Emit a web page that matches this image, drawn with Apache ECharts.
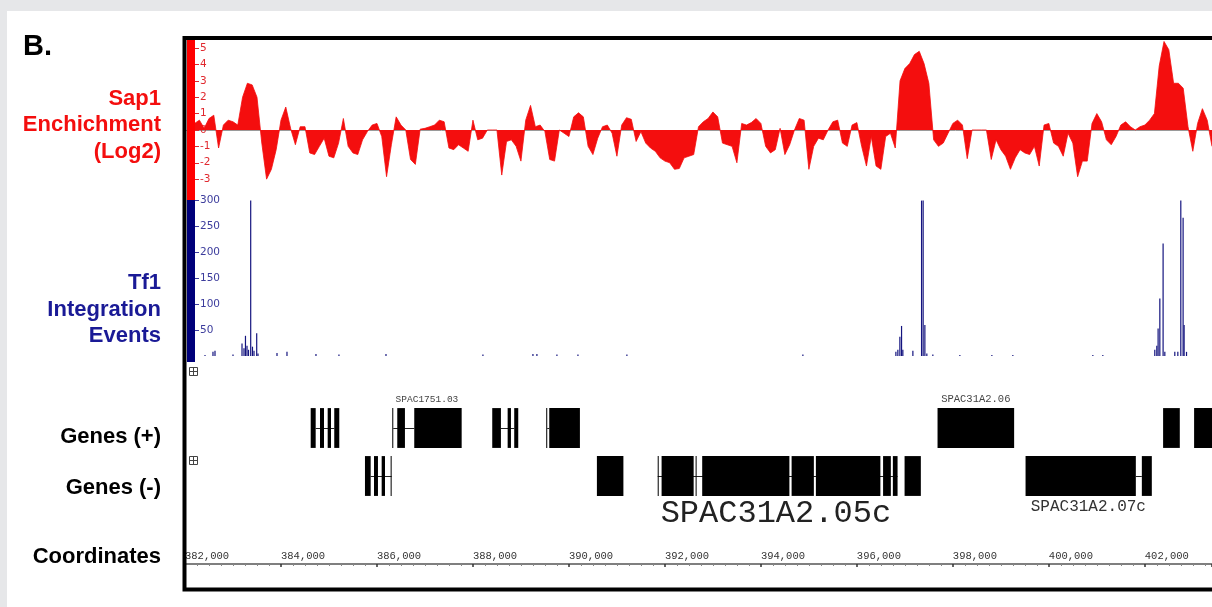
<!DOCTYPE html>
<html><head><meta charset="utf-8">
<script src="https://cdn.jsdelivr.net/npm/echarts@6/dist/echarts.min.js"></script>
<style>html,body{margin:0;padding:0;background:#fff}#c{width:1212px;height:607px}</style>
</head><body><div id="c"></div><script>
// ---- data ----
const coordMin = 382000;
const coordMax = 403400;
const coordTickStep = 2000;

// Sap1 enrichment (log2), sampled along the region
const sapStartBp = 382200;
const sapStepBp = 100;
const sapValues = [
 0.4,0.6,0.1,0.7,0.9,-1.1,0.3,0.6,0.5,0.3,
 2.0,2.85,2.75,2.0,-0.8,-3.0,-2.4,-1.2,0.6,1.4,
 0.1,-0.9,0.2,0.2,-1.4,-1.5,-1.0,-0.5,-1.6,-1.7,
 -0.8,0.7,-1.0,-1.4,-1.5,-0.6,-0.1,0.3,0.4,-0.4,
 -2.85,-0.9,0.8,0.3,0,-1.8,-2.1,0.05,0.1,0.2,
 0.3,0.6,0.5,-1.1,-1.2,-0.9,-1.1,-1.3,0.6,-0.6,
 -0.5,0,0,0,-2.75,-0.7,-0.6,-1.0,-1.9,0.6,
 1.5,0.2,0.3,-0.1,-1.8,-1.9,0,-0.2,-0.4,0.8,
 1.05,0.8,-1.0,-1.5,-0.5,0.2,0.3,-0.2,-1.6,0.3,
 0.75,0.65,-0.7,-0.1,-0.8,-1.1,-1.3,-1.7,-1.9,-2.0,
 -2.4,-2.35,-1.7,-1.6,-1.5,0.2,0.5,0.7,1.1,0.8,
 -0.8,-0.9,-1.0,-2.0,0.4,0.3,0.45,0.7,0.4,-1.0,
 -1.4,-1.2,0.1,-1.5,-0.9,0,0.7,0.6,-2.4,-1.0,
 -0.5,-0.6,0,0.5,0.6,-0.8,-1.0,0.3,0.45,-1.0,
 -2.2,-0.4,-2.2,-2.4,-0.4,-0.2,-1.1,3.0,3.75,4.05,
 4.6,4.8,4.05,2.85,-0.6,-1.0,-0.8,-0.2,0.4,0.6,
 0.3,-1.75,0,0,0,0,-1.8,-0.6,-1.2,-1.6,
 -2.4,-1.7,-1.2,-1.4,-1.5,-1.0,-2.2,0.3,0.4,-0.8,
 -1.0,-1.6,-0.2,-0.8,-2.85,-1.9,-1.9,0.4,1.0,0.5,
 -0.6,-0.9,-0.4,0.3,0.5,0.2,0,0.2,0.3,0.6,
 1.0,3.9,5.4,4.9,2.85,2.85,2.55,0.2,-1.3,0.4,
 1.3,0.6,-1.0
];
const sapTicks = [-3,-2,-1,0,1,2,3,4,5];

// Tf1 integration events
const tf1Pos = [382417,382583,382625,383000,383188,383229,383260,383292,383323,383369,383406,383438,383494,383521,
 383917,384125,384729,385208,386188,388208,389250,389333,389750,390188,391208,394875,
 396813,396854,396896,396931,396958,397167,397348,397381,397417,397458,397583,398146,398813,399250,400917,401125,
 402208,402250,402277,402313,402381,402417,402625,402688,402750,402798,402819,402869];
const tf1Counts = [2,8,10,3,24,15,39,20,12,300,18,10,44,5,
 6,8,4,3,4,3,4,4,3,3,3,3,
 8,12,37,58,12,10,300,300,60,5,3,2,2,2,2,2,
 12,20,53,111,217,8,8,8,300,267,60,8];
const tf1Ticks = [50,100,150,200,250,300];

// Genes
const strands = ['+','-'];
const plusExons = [
 [384619,384723],[384813,384896],[384973,385042],[385110,385215],
 [386319,386340],[386423,386583],[386777,387765],
 [388402,388583],[388723,388792],[388860,388944],
 [389527,389548],[389590,390229],
 [397681,399277],
 [402381,402729],
 [403027,403600]
];
const plusIntrons = [[384723,385110],[386340,386777],[388583,388860],[389548,389590]];
const minusExons = [
 [385750,385869],[385938,386021],[386098,386167],[386285,386306],
 [390583,391135],
 [391850,391871],[391931,392599],[392640,392660],[392777,394594],[394640,395104],[395146,396490],[396546,396708],[396750,396848],
 [396994,397333],
 [399515,401813],[401938,402146]
];
const minusIntrons = [[385869,386306],[391850,396848],[401813,401938]];
const geneLabelNames = ['SPAC1751.03','SPAC31A2.06','SPAC31A2.05c','SPAC31A2.07c'];
const geneLabelPos = [387042,398478,394312,400823];
const geneLabelStrand = ['+','+','-','-'];

// ---- styles ----
const labelDy = [-29,-29,38,31];
const labelFontSize = [9.5,10.5,32,16];
const labelColor = ['#444','#444','#222','#333'];
const RED = '#f40e0e', NAVY = '#14147f';
const gridLeft = 185;

// ---- build ----
const sapData = sapValues.map((v,i)=>[sapStartBp + i*sapStepBp, v]);
const tf1Data = tf1Pos.map((p,i)=>[p, tf1Counts[i]]);
const exonData = plusExons.map(e=>[e[0],e[1],0]).concat(minusExons.map(e=>[e[0],e[1],1]));
const intronData = plusIntrons.map(e=>[e[0],e[1],0]).concat(minusIntrons.map(e=>[e[0],e[1],1]));
const labelData = geneLabelNames.map((n,i)=>[geneLabelPos[i], strands.indexOf(geneLabelStrand[i]), i]);

function renderExon(params, api){
  const p0 = api.coord([api.value(0), api.value(2)]);
  const p1 = api.coord([api.value(1), api.value(2)]);
  const h = api.size([0,1])[1]*0.83;
  const w = Math.max(p1[0]-p0[0], 1);
  return {type:'rect', shape:{x:p0[0], y:p0[1]-h/2, width:w, height:h}, style:{fill:'#000'}};
}
function renderIntron(params, api){
  const p0 = api.coord([api.value(0), api.value(2)]);
  const p1 = api.coord([api.value(1), api.value(2)]);
  const y = Math.round(p0[1]) + 0.5;
  return {type:'line', shape:{x1:p0[0], y1:y, x2:p1[0], y2:y}, style:{stroke:'#222', lineWidth:1}};
}
function renderLabel(params, api){
  const i = api.value(2);
  const p = api.coord([api.value(0), api.value(1)]);
  return {type:'text', x:p[0], y:p[1]+labelDy[i], style:{text:geneLabelNames[i], font: labelFontSize[i]+'px "Liberation Mono", monospace', fill:labelColor[i], align:'center', verticalAlign:'middle'}};
}

const FONT = '"Liberation Sans", Arial, sans-serif';
function txt(t, x, y, color, size, align){
  return {type:'text', x:x, y:y, z:200, style:{text:t, font:'bold '+(size||22)+'px '+FONT, fill:color, align:align||'right', verticalAlign:'middle'}};
}
function plusIcon(x, y){
  return [
    {type:'rect', z:200, shape:{x:x+0.5, y:y+0.5, width:8, height:8}, style:{fill:'#fff', stroke:'#444', lineWidth:1}},
    {type:'line', z:201, shape:{x1:x+0.5, y1:y+4.5, x2:x+8.5, y2:y+4.5}, style:{stroke:'#444', lineWidth:1}},
    {type:'line', z:201, shape:{x1:x+4.5, y1:y+0.5, x2:x+4.5, y2:y+8.5}, style:{stroke:'#444', lineWidth:1}}
  ];
}

const graphics = [
  {type:'rect', z:300, shape:{x:0,y:0,width:1212,height:11}, style:{fill:'#e6e7e9'}},
  {type:'rect', z:300, shape:{x:0,y:0,width:7,height:607}, style:{fill:'#e6e7e9'}},
  {type:'rect', z:150, shape:{x:187,y:40,width:8,height:160}, style:{fill:'#f00'}},
  {type:'rect', z:150, shape:{x:187,y:200,width:8,height:162}, style:{fill:'#00007a'}},
  {type:'rect', z:160, shape:{x:184.5,y:38,width:1100,height:551.5}, style:{fill:null, stroke:'#000', lineWidth:4}},
  ...plusIcon(189,367), ...plusIcon(189,456),
  txt('B.', 23, 47, '#000', 29, 'left'),
  txt('Sap1', 161, 99, RED), txt('Enchichment', 161, 125, RED), txt('(Log2)', 161, 152, RED),
  txt('Tf1', 161, 283, '#1a1a96'), txt('Integration', 161, 310, '#1a1a96'), txt('Events', 161, 336, '#1a1a96'),
  txt('Genes (+)', 161, 437, '#000'), txt('Genes (-)', 161, 488, '#000'), txt('Coordinates', 161, 557, '#000')
];

function hiddenX(i, extra){
  return Object.assign({type:'value', gridIndex:i, min:coordMin, max:coordMax, show:true,
    axisLabel:{show:false}, axisTick:{show:false}, splitLine:{show:false}, axisLine:{show:false}}, extra||{});
}

const chart = echarts.init(document.getElementById('c'), null, {renderer:'canvas'});
chart.setOption({
  animation:false,
  backgroundColor:'#fff',
  grid:[
    {left:gridLeft, right:0, top:40, height:158},
    {left:gridLeft, right:0, top:198, height:158},
    {left:gridLeft, right:0, top:404, height:96},
    {left:gridLeft, right:0, top:563, height:1}
  ],
  xAxis:[
    hiddenX(0, {axisLine:{show:true, onZero:true, lineStyle:{color:'#9a9a9a', width:1}}}),
    hiddenX(1),
    hiddenX(2),
    {type:'value', gridIndex:3, min:coordMin, max:coordMax, interval:coordTickStep, position:'bottom',
     axisLine:{show:true, lineStyle:{color:'#555', width:1.5}},
     axisTick:{show:true, length:3, lineStyle:{color:'#333', width:1.5}},
     minorTick:{show:true, splitNumber:8, length:2, lineStyle:{color:'#888'}},
     splitLine:{show:false},
     axisLabel:{inside:true, margin:2, align:'left', showMaxLabel:false, fontFamily:'"Liberation Mono", monospace', fontSize:10.5, color:'#333',
       formatter:v=>v.toLocaleString('en-US')}}
  ],
  yAxis:[
    {type:'value', gridIndex:0, min:-4.15, max:5.49, offset:-10, splitLine:{show:false}, axisLine:{show:false},
     axisTick:{show:true, inside:true, length:4, customValues:sapTicks, lineStyle:{color:'#e0282e'}},
     axisLabel:{inside:true, margin:5, customValues:sapTicks, fontFamily:'"DejaVu Sans", sans-serif', fontSize:10.5, color:'#e0282e'}},
    {type:'value', gridIndex:1, min:0, max:305, offset:-10, splitLine:{show:false}, axisLine:{show:false},
     axisTick:{show:true, inside:true, length:4, customValues:tf1Ticks, lineStyle:{color:'#3c3c9c'}},
     axisLabel:{inside:true, margin:5, customValues:tf1Ticks, fontFamily:'"DejaVu Sans", sans-serif', fontSize:10.5, color:'#3c3c9c'}},
    {type:'category', gridIndex:2, data:strands, inverse:true, show:false},
    {type:'value', gridIndex:3, show:false}
  ],
  series:[
    {type:'line', xAxisIndex:0, yAxisIndex:0, data:sapData, symbol:'none', z:3,
     lineStyle:{color:RED, width:0.8}, areaStyle:{color:RED, opacity:1}},
    {type:'bar', xAxisIndex:1, yAxisIndex:1, data:tf1Data, barWidth:1.2, itemStyle:{color:NAVY}},
    {type:'custom', xAxisIndex:2, yAxisIndex:2, renderItem:renderIntron, data:intronData, encode:{x:[0,1], y:2}},
    {type:'custom', xAxisIndex:2, yAxisIndex:2, renderItem:renderExon, data:exonData, encode:{x:[0,1], y:2}},
    {type:'custom', xAxisIndex:2, yAxisIndex:2, renderItem:renderLabel, data:labelData, encode:{x:0, y:1}, clip:false}
  ],
  graphic:{elements:graphics}
});
</script></body></html>
